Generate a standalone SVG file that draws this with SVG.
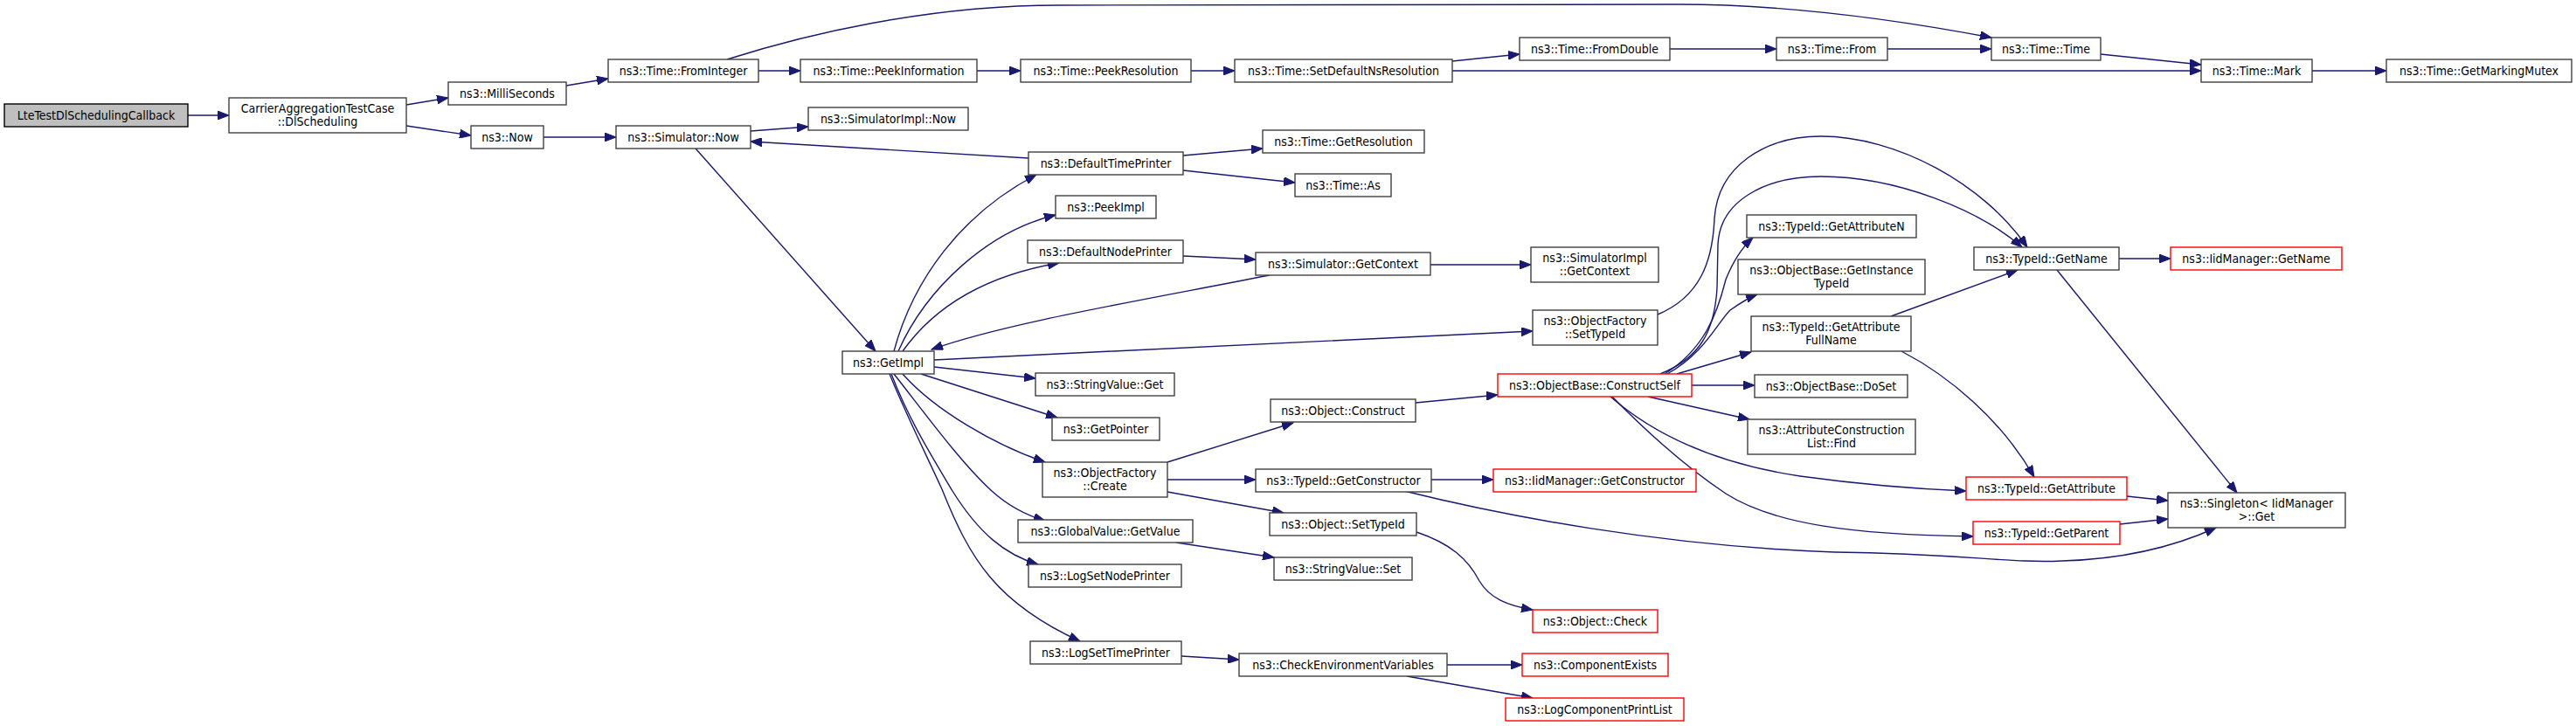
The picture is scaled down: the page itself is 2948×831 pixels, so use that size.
<svg xmlns="http://www.w3.org/2000/svg" width="2948" height="831" viewBox="0 0 2948 831">
<style>
.node rect{fill:#ffffff;stroke:#404040;stroke-width:1.4}
.node.red rect{stroke:#ff0000}
.node.root rect{fill:#bfbfbf;stroke:#000000}
.node text{font-family:"DejaVu Sans Condensed","DejaVu Sans",sans-serif;font-size:14px;fill:#000000;text-anchor:middle}
.edges path{fill:none;stroke:#191970;stroke-width:1.4;marker-end:url(#ah)}
</style>
<defs>
<marker id="ah" markerUnits="userSpaceOnUse" markerWidth="14" markerHeight="10" refX="13" refY="5" orient="auto">
<path d="M0,0 L13,5 L0,10 z" fill="#191970" stroke="#191970" stroke-width="1"/>
</marker>
</defs>
<rect x="0" y="0" width="2948" height="831" fill="#ffffff"/>
<g id="edges" class="edges">
<path d="M215,132 L262,132"/>
<path d="M465,120 L513,112"/>
<path d="M465,144 L539,155"/>
<path d="M648,98 L696,90"/>
<path d="M622,157 L705,157"/>
<path d="M868,81 L916,81"/>
<path d="M832,68 C920,40 1060,6 1212,6 L1920,5 C2060,5 2200,28 2279,43"/>
<path d="M1118,81 L1168,81"/>
<path d="M1363,81 L1413,81"/>
<path d="M1662,70 L1739,62"/>
<path d="M1662,81 L2519,81"/>
<path d="M1911,56 L2033,56"/>
<path d="M2160,56 L2279,56"/>
<path d="M2404,62 L2519,74"/>
<path d="M2646,81 L2731,81"/>
<path d="M859,150 L925,145"/>
<path d="M1177,181 L859,162"/>
<path d="M796,170 L1002,402"/>
<path d="M1354,178 L1445,170"/>
<path d="M1354,195 L1482,209"/>
<path d="M1023,402 C1045,320 1100,245 1186,200"/>
<path d="M1028,402 C1060,330 1130,265 1208,246"/>
<path d="M1033,402 C1070,350 1130,315 1212,301"/>
<path d="M1453,315 C1300,345 1150,370 1066,400"/>
<path d="M1069,412 C1300,400 1550,390 1754,379"/>
<path d="M1354,293 L1437,297"/>
<path d="M1637,303 L1752,303"/>
<path d="M1069,420 L1185,433"/>
<path d="M1054,428 L1210,478"/>
<path d="M1033,428 C1070,470 1140,510 1196,529"/>
<path d="M1023,428 C1060,475 1100,530 1135,562 C1155,580 1175,590 1196,596"/>
<path d="M1020,428 C1040,480 1065,520 1090,562 C1120,610 1150,635 1188,646"/>
<path d="M1018,428 C1035,470 1055,510 1078,560 C1110,640 1140,690 1236,734"/>
<path d="M1336,529 L1480,484"/>
<path d="M1336,549 L1437,549"/>
<path d="M1336,563 L1469,587"/>
<path d="M1346,621 L1458,638"/>
<path d="M1352,751 L1418,755"/>
<path d="M1620,461 L1714,452"/>
<path d="M1897,360 C1945,340 1960,300 1962,250 C1966,190 2020,156 2084,156 C2170,156 2270,210 2320,283"/>
<path d="M1900,428 C1945,410 1962,380 1965,330 L1966,280 C1968,230 2020,202 2084,202 C2170,202 2265,240 2314,283"/>
<path d="M1905,428 C1950,400 1965,360 1975,320 C1985,295 1995,282 2006,272"/>
<path d="M1908,428 C1950,405 1965,370 1980,355 C1990,348 2000,341 2011,337"/>
<path d="M1919,428 L2004,403"/>
<path d="M1936,441 L2008,441"/>
<path d="M1886,454 L2002,480"/>
<path d="M1843,454 C1890,495 1960,530 2060,545 C2140,556 2200,560 2250,562"/>
<path d="M1845,454 C1900,510 1945,545 1975,565 C2030,600 2120,612 2258,614"/>
<path d="M1607,562 C1720,590 1900,625 2100,632 C2250,634 2300,645 2360,642 C2430,640 2490,625 2536,604"/>
<path d="M2164,362 L2309,309"/>
<path d="M2176,402 C2230,430 2290,480 2328,546"/>
<path d="M2425,296 L2484,296"/>
<path d="M2354,309 L2560,564"/>
<path d="M2434,568 L2481,573"/>
<path d="M2426,600 L2481,594"/>
<path d="M1638,549 L1709,549"/>
<path d="M1621,609 C1660,622 1680,640 1693,665 C1705,685 1725,693 1754,698"/>
<path d="M1656,761 L1742,761"/>
<path d="M1610,774 L1754,799"/>
</g>
<g id="n_lte" class="node root"><rect x="5" y="119" width="210" height="26"/><text x="110" y="137">LteTestDlSchedulingCallback</text></g>
<g id="n_dls" class="node"><rect x="262" y="112" width="203" height="40"/><text x="363.5" y="129">CarrierAggregationTestCase</text><text x="363.5" y="143.5">::DlScheduling</text></g>
<g id="n_milli" class="node"><rect x="513" y="94" width="135" height="26"/><text x="580.5" y="112">ns3::MilliSeconds</text></g>
<g id="n_now" class="node"><rect x="539" y="144" width="83" height="26"/><text x="580.5" y="162">ns3::Now</text></g>
<g id="n_fromint" class="node"><rect x="696" y="68" width="172" height="26"/><text x="782" y="86">ns3::Time::FromInteger</text></g>
<g id="n_simnow" class="node"><rect x="705" y="144" width="154" height="26"/><text x="782" y="162">ns3::Simulator::Now</text></g>
<g id="n_peekinfo" class="node"><rect x="916" y="68" width="202" height="26"/><text x="1017" y="86">ns3::Time::PeekInformation</text></g>
<g id="n_peekres" class="node"><rect x="1168" y="68" width="195" height="26"/><text x="1265.5" y="86">ns3::Time::PeekResolution</text></g>
<g id="n_setdef" class="node"><rect x="1413" y="68" width="249" height="26"/><text x="1537.5" y="86">ns3::Time::SetDefaultNsResolution</text></g>
<g id="n_fromdouble" class="node"><rect x="1739" y="43" width="172" height="26"/><text x="1825" y="61">ns3::Time::FromDouble</text></g>
<g id="n_from" class="node"><rect x="2033" y="43" width="127" height="26"/><text x="2096.5" y="61">ns3::Time::From</text></g>
<g id="n_time" class="node"><rect x="2279" y="43" width="125" height="26"/><text x="2341.5" y="61">ns3::Time::Time</text></g>
<g id="n_mark" class="node"><rect x="2519" y="68" width="127" height="26"/><text x="2582.5" y="86">ns3::Time::Mark</text></g>
<g id="n_mutex" class="node"><rect x="2731" y="68" width="212" height="26"/><text x="2837" y="86">ns3::Time::GetMarkingMutex</text></g>
<g id="n_simimplnow" class="node"><rect x="925" y="123" width="183" height="26"/><text x="1016.5" y="141">ns3::SimulatorImpl::Now</text></g>
<g id="n_dtp" class="node"><rect x="1177" y="174" width="177" height="26"/><text x="1265.5" y="192">ns3::DefaultTimePrinter</text></g>
<g id="n_getres" class="node"><rect x="1445" y="149" width="185" height="26"/><text x="1537.5" y="167">ns3::Time::GetResolution</text></g>
<g id="n_as" class="node"><rect x="1482" y="199" width="110" height="26"/><text x="1537" y="217">ns3::Time::As</text></g>
<g id="n_peekimpl" class="node"><rect x="1208" y="224" width="115" height="26"/><text x="1265.5" y="242">ns3::PeekImpl</text></g>
<g id="n_dnp" class="node"><rect x="1176" y="275" width="178" height="26"/><text x="1265" y="293">ns3::DefaultNodePrinter</text></g>
<g id="n_simctx" class="node"><rect x="1437" y="289" width="200" height="26"/><text x="1537" y="307">ns3::Simulator::GetContext</text></g>
<g id="n_simimplctx" class="node"><rect x="1752" y="283" width="146" height="40"/><text x="1825" y="300">ns3::SimulatorImpl</text><text x="1825" y="314.5">::GetContext</text></g>
<g id="n_getimpl" class="node"><rect x="964" y="402" width="105" height="26"/><text x="1016.5" y="420">ns3::GetImpl</text></g>
<g id="n_ofsettype" class="node"><rect x="1754" y="355" width="143" height="40"/><text x="1825.5" y="372">ns3::ObjectFactory</text><text x="1825.5" y="386.5">::SetTypeId</text></g>
<g id="n_svget" class="node"><rect x="1185" y="427" width="159" height="26"/><text x="1264.5" y="445">ns3::StringValue::Get</text></g>
<g id="n_getptr" class="node"><rect x="1204" y="478" width="123" height="26"/><text x="1265.5" y="496">ns3::GetPointer</text></g>
<g id="n_ofcreate" class="node"><rect x="1193" y="529" width="143" height="40"/><text x="1264.5" y="546">ns3::ObjectFactory</text><text x="1264.5" y="560.5">::Create</text></g>
<g id="n_objconstruct" class="node"><rect x="1454" y="457" width="166" height="26"/><text x="1537" y="475">ns3::Object::Construct</text></g>
<g id="n_getctor" class="node"><rect x="1437" y="537" width="201" height="26"/><text x="1537.5" y="555">ns3::TypeId::GetConstructor</text></g>
<g id="n_objsettype" class="node"><rect x="1453" y="587" width="168" height="26"/><text x="1537" y="605">ns3::Object::SetTypeId</text></g>
<g id="n_svset" class="node"><rect x="1458" y="638" width="158" height="26"/><text x="1537" y="656">ns3::StringValue::Set</text></g>
<g id="n_gv" class="node"><rect x="1165" y="595" width="200" height="26"/><text x="1265" y="613">ns3::GlobalValue::GetValue</text></g>
<g id="n_lsnp" class="node"><rect x="1177" y="646" width="175" height="26"/><text x="1264.5" y="664">ns3::LogSetNodePrinter</text></g>
<g id="n_lstp" class="node"><rect x="1179" y="734" width="173" height="26"/><text x="1265.5" y="752">ns3::LogSetTimePrinter</text></g>
<g id="n_cev" class="node"><rect x="1418" y="748" width="238" height="26"/><text x="1537" y="766">ns3::CheckEnvironmentVariables</text></g>
<g id="n_check" class="node red"><rect x="1754" y="698" width="143" height="26"/><text x="1825.5" y="716">ns3::Object::Check</text></g>
<g id="n_cexists" class="node red"><rect x="1742" y="748" width="167" height="26"/><text x="1825.5" y="766">ns3::ComponentExists</text></g>
<g id="n_lcpl" class="node red"><rect x="1723" y="799" width="204" height="26"/><text x="1825" y="817">ns3::LogComponentPrintList</text></g>
<g id="n_cself" class="node red"><rect x="1714" y="428" width="222" height="26"/><text x="1825" y="446">ns3::ObjectBase::ConstructSelf</text></g>
<g id="n_iidctor" class="node red"><rect x="1709" y="537" width="232" height="26"/><text x="1825" y="555">ns3::IidManager::GetConstructor</text></g>
<g id="n_getattrn" class="node"><rect x="1999" y="246" width="194" height="26"/><text x="2096" y="264">ns3::TypeId::GetAttributeN</text></g>
<g id="n_getinst" class="node"><rect x="1989" y="297" width="214" height="40"/><text x="2096" y="314">ns3::ObjectBase::GetInstance</text><text x="2096" y="328.5">TypeId</text></g>
<g id="n_getattrfull" class="node"><rect x="2004" y="362" width="183" height="40"/><text x="2095.5" y="379">ns3::TypeId::GetAttribute</text><text x="2095.5" y="393.5">FullName</text></g>
<g id="n_doset" class="node"><rect x="2008" y="429" width="175" height="26"/><text x="2095.5" y="447">ns3::ObjectBase::DoSet</text></g>
<g id="n_acl" class="node"><rect x="2000" y="480" width="192" height="40"/><text x="2096" y="497">ns3::AttributeConstruction</text><text x="2096" y="511.5">List::Find</text></g>
<g id="n_getname" class="node"><rect x="2259" y="283" width="166" height="26"/><text x="2342" y="301">ns3::TypeId::GetName</text></g>
<g id="n_iidname" class="node red"><rect x="2484" y="283" width="196" height="26"/><text x="2582" y="301">ns3::IidManager::GetName</text></g>
<g id="n_getattr" class="node red"><rect x="2250" y="546" width="184" height="26"/><text x="2342" y="564">ns3::TypeId::GetAttribute</text></g>
<g id="n_getparent" class="node red"><rect x="2258" y="597" width="168" height="26"/><text x="2342" y="615">ns3::TypeId::GetParent</text></g>
<g id="n_singleton" class="node"><rect x="2481" y="564" width="203" height="40"/><text x="2582.5" y="581">ns3::Singleton&lt; IidManager</text><text x="2582.5" y="595.5">&gt;::Get</text></g>
</svg>
